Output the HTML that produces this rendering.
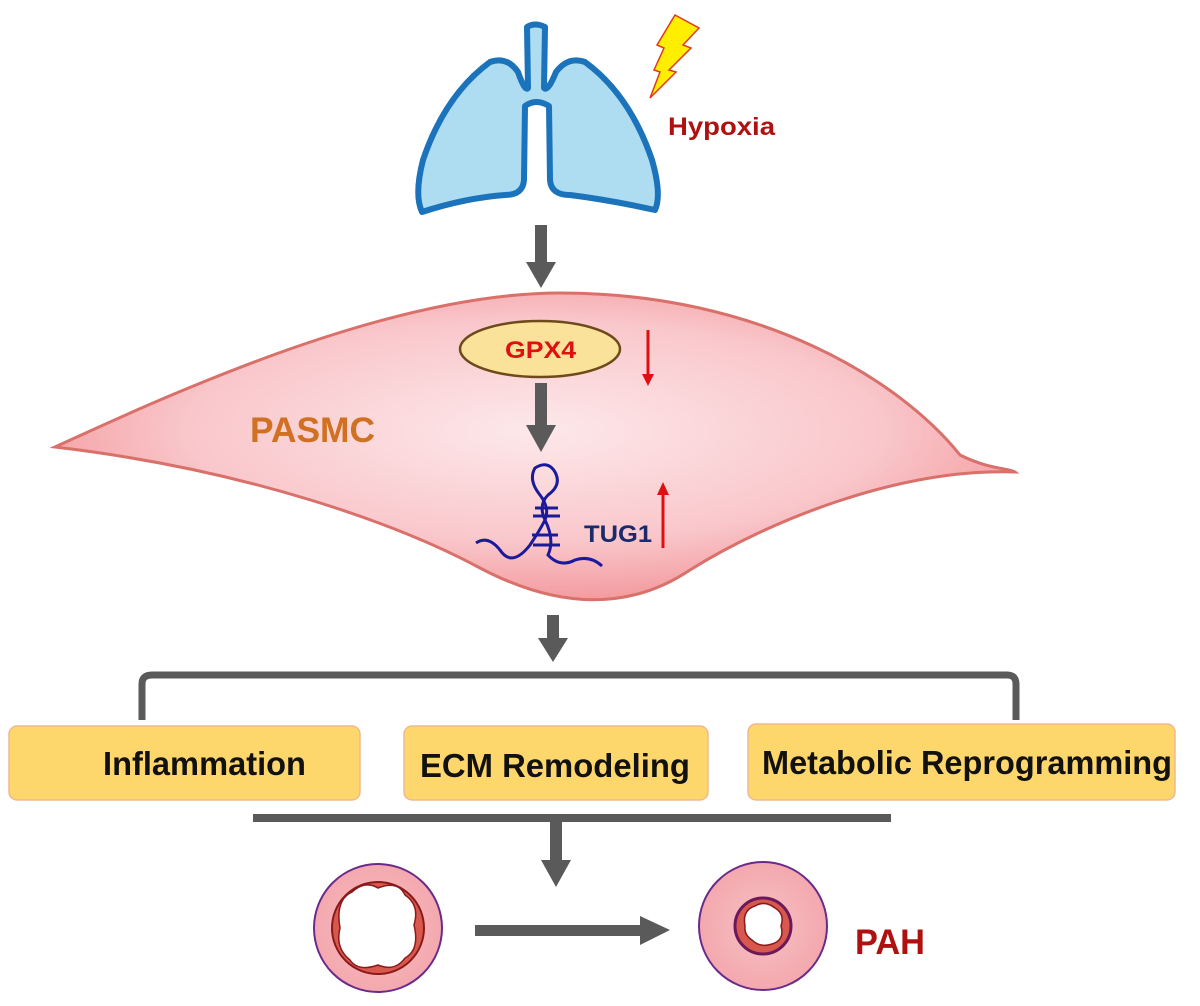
<!DOCTYPE html>
<html><head><meta charset="utf-8"><style>
body{margin:0;background:#fff}
svg{display:block}
text{font-family:"Liberation Sans",sans-serif;font-weight:bold}
</style></head><body>
<svg width="1200" height="1006" viewBox="0 0 1200 1006" xmlns="http://www.w3.org/2000/svg">
<defs>
<radialGradient id="cg" cx="0.5" cy="0.45" r="0.6">
<stop offset="0" stop-color="#fde8ea"/><stop offset="0.6" stop-color="#f9c7cb"/><stop offset="1" stop-color="#f29094"/>
</radialGradient>
<radialGradient id="vg" cx="0.5" cy="0.5" r="0.5">
<stop offset="0" stop-color="#f7c1c4"/><stop offset="1" stop-color="#f3a8ae"/>
</radialGradient>
</defs>
<!-- lungs -->
<path d="M527,27 Q535,22 545,27 L544,88 Q548,92 556,72 Q568,56 585,62 Q630,95 652,160 Q662,195 655,210 Q610,200 570,195 Q551,195 550,180 L549,106 Q536,98 525,106 L524,180 Q523,195 505,195 Q465,198 422,212 Q414,195 423,160 Q445,95 490,62 Q507,56 518,72 Q525,92 528,88 Z" fill="#aedcf0" stroke="#1a73bb" stroke-width="6" stroke-linejoin="round"/>
<polygon points="675,15 699,28 683,45 691,48 669,70 676,72 650,98 660,72 654,70 664,48 657,45" fill="#ffee00" stroke="#e03a1a" stroke-width="1.5"/>
<text x="668" y="135" font-size="25" fill="#b01010" textLength="107" lengthAdjust="spacingAndGlyphs">Hypoxia</text>
<!-- arrow 1 -->
<rect x="535" y="225" width="12" height="42" fill="#5a5a5a"/><polygon points="526,262 556,262 541,288" fill="#5a5a5a"/>
<!-- cell -->
<path d="M55,447 C200,380 400,293 560,293 C760,293 900,380 960,455 C990,470 1010,468 1015,472 C900,468 770,520 690,570 C630,610 560,610 480,568 C400,525 250,470 55,447 Z" fill="url(#cg)" stroke="#d9706a" stroke-width="3"/>
<ellipse cx="540" cy="349" rx="80" ry="28" fill="#fbe29a" stroke="#6d4a1a" stroke-width="2.5"/>
<text x="505" y="358" font-size="24" fill="#e01010" textLength="71" lengthAdjust="spacingAndGlyphs">GPX4</text>
<line x1="648" y1="330" x2="648" y2="378" stroke="#e01010" stroke-width="3"/><polygon points="642,374 654,374 648,386" fill="#e01010"/>
<text x="250" y="442" font-size="35" fill="#d07020" textLength="125" lengthAdjust="spacingAndGlyphs">PASMC</text>
<rect x="535" y="383" width="12" height="45" fill="#5a5a5a"/><polygon points="526,425 556,425 541,452" fill="#5a5a5a"/>
<!-- RNA -->
<g fill="none" stroke="#1a1a9a" stroke-width="3">
<path d="M476,543 Q488,535 500,550 Q512,568 530,545 Q540,530 545,520 Q550,508 540,495 Q528,480 535,468 Q548,460 555,472 Q562,485 548,495 Q538,505 545,520 Q555,540 548,555 Q560,568 575,560 Q590,555 602,566"/>
<path d="M535,508 L558,508 M533,516 L560,516 M532,535 L558,535 M533,545 L560,545"/>
</g>
<text x="584" y="542" font-size="24" fill="#1a2a6a" textLength="68" lengthAdjust="spacingAndGlyphs">TUG1</text>
<line x1="663" y1="548" x2="663" y2="492" stroke="#e01010" stroke-width="3"/><polygon points="657,495 669,495 663,482" fill="#e01010"/>
<!-- arrow 3 -->
<rect x="547" y="615" width="12" height="27" fill="#5a5a5a"/><polygon points="538,638 568,638 553,662" fill="#5a5a5a"/>
<!-- bracket -->
<path d="M142,720 L142,684 Q142,675 152,675 L1007,675 Q1016,675 1016,684 L1016,720" fill="none" stroke="#5a5a5a" stroke-width="7"/>
<!-- boxes -->
<rect x="9" y="726" width="351" height="74" rx="8" fill="#fdd76b" stroke="#f0b890" stroke-width="1.5"/>
<text x="103" y="775" font-size="33" fill="#111" textLength="203" lengthAdjust="spacingAndGlyphs">Inflammation</text>
<rect x="404" y="726" width="304" height="74" rx="8" fill="#fdd76b" stroke="#f0b890" stroke-width="1.5"/>
<text x="420" y="777" font-size="33" fill="#111" textLength="270" lengthAdjust="spacingAndGlyphs">ECM Remodeling</text>
<rect x="748" y="724" width="427" height="76" rx="8" fill="#fdd76b" stroke="#f0b890" stroke-width="1.5"/>
<text x="762" y="774" font-size="33" fill="#111" textLength="410" lengthAdjust="spacingAndGlyphs">Metabolic Reprogramming</text>
<!-- bottom -->
<rect x="253" y="814" width="638" height="8" fill="#5a5a5a"/>
<rect x="550" y="822" width="12" height="40" fill="#5a5a5a"/><polygon points="541,860 571,860 556,887" fill="#5a5a5a"/>
<rect x="475" y="925" width="168" height="11" fill="#5a5a5a"/><polygon points="640,916 670,930 640,945" fill="#5a5a5a"/>
<!-- vessel 1 -->
<circle cx="378" cy="928" r="64" fill="url(#vg)" stroke="#6a2a8a" stroke-width="2"/>
<circle cx="378" cy="928" r="46" fill="#d9584e" stroke="#8a1a1a" stroke-width="2"/>
<path d="M340,928 Q335,900 352,892 Q365,880 378,888 Q398,880 405,895 Q420,905 414,925 Q420,950 405,958 Q395,972 378,965 Q358,972 350,960 Q335,948 340,928 Z" fill="#fff" stroke="#8a1a1a" stroke-width="1.5"/>
<!-- vessel 2 -->
<circle cx="763" cy="926" r="64" fill="url(#vg)" stroke="#6a2a8a" stroke-width="2"/>
<circle cx="763" cy="926" r="28" fill="#d9584e" stroke="#6a1a5a" stroke-width="3"/>
<path d="M745,926 Q742,910 755,906 Q765,900 775,908 Q785,914 781,926 Q785,940 772,944 Q760,948 752,940 Q744,935 745,926 Z" fill="#fff" stroke="#8a1a1a" stroke-width="1.5"/>
<text x="855" y="954" font-size="35" fill="#b01010" textLength="70" lengthAdjust="spacingAndGlyphs">PAH</text>
</svg>
</body></html>
